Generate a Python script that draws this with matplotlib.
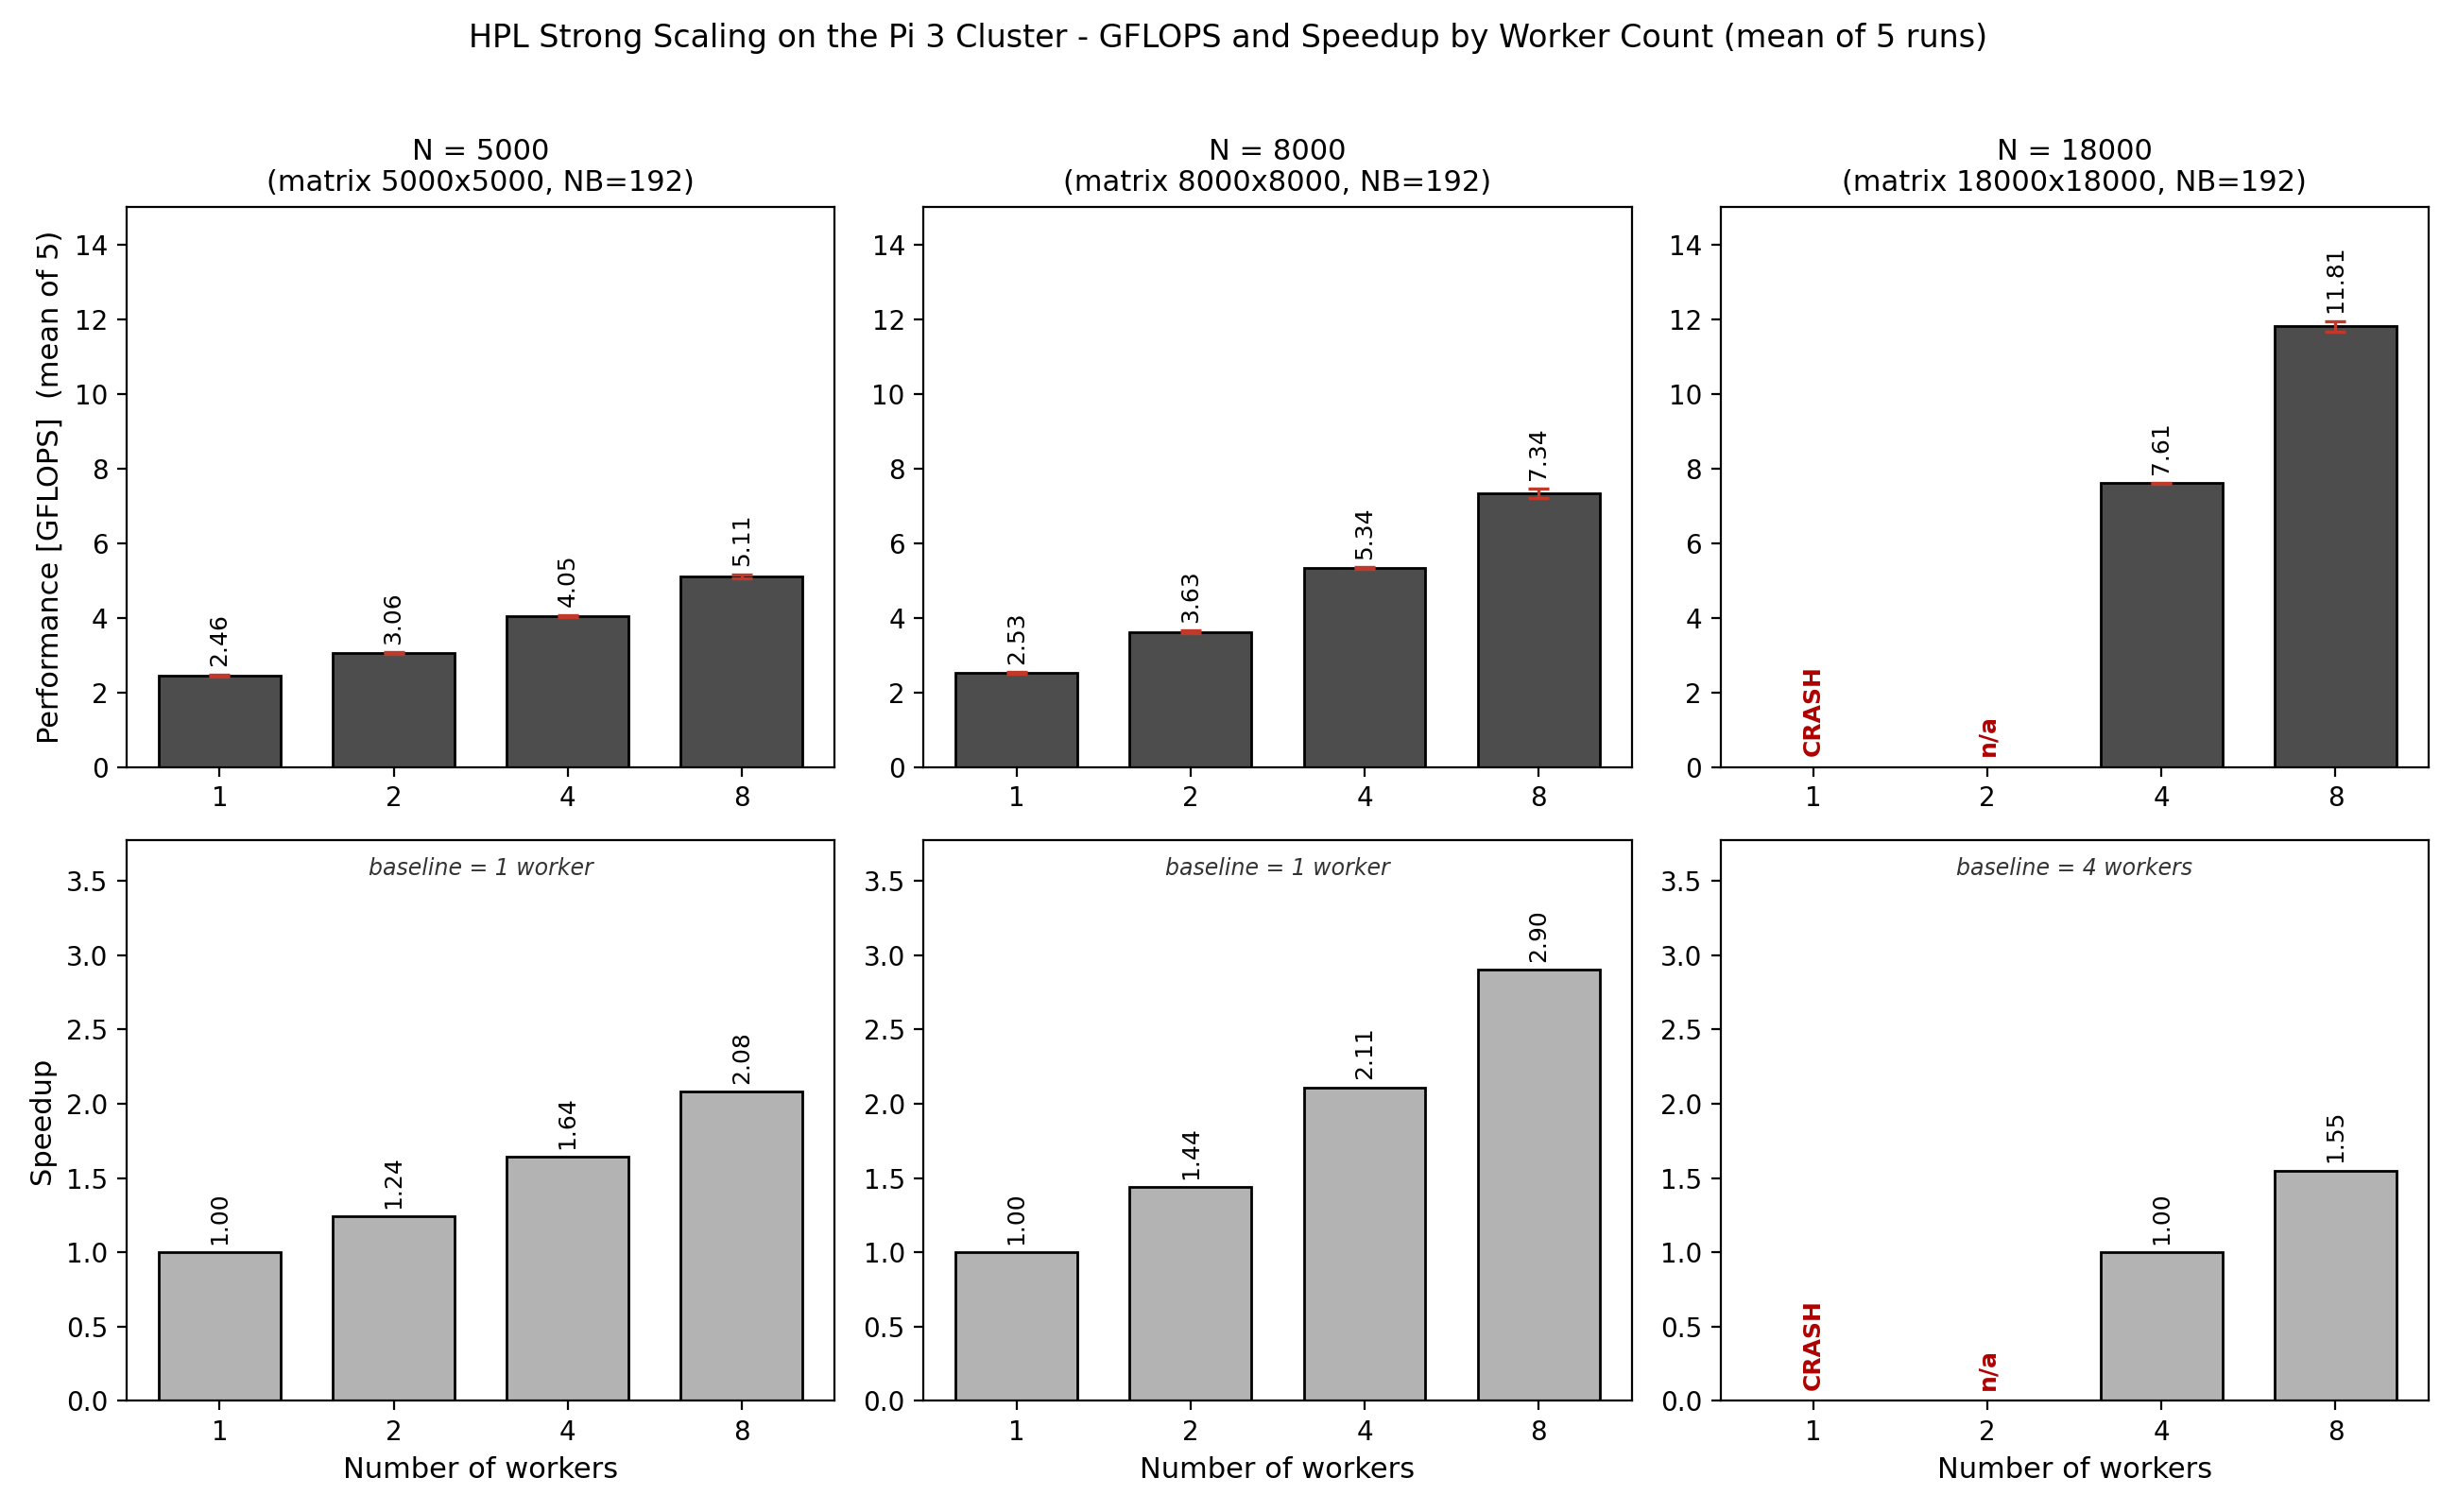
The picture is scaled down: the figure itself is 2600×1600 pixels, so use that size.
import numpy as np
import matplotlib
matplotlib.use("Agg")
import matplotlib.pyplot as plt

workers = ["1", "2", "4", "8"]
sizes = [5000, 8000, 18000]

# mean GFLOPS per problem size (None = no result)
gflops_5000 = [2.46, 3.06, 4.05, 5.11]
gflops_8000 = [2.53, 3.63, 5.34, 7.34]
gflops_18000 = [None, None, 7.61, 11.81]

# std dev over the 5 runs
std_5000 = [0.03, 0.03, 0.03, 0.06]
std_8000 = [0.03, 0.03, 0.02, 0.13]
std_18000 = [None, None, 0.01, 0.14]

speedup_5000 = [1.00, 1.24, 1.64, 2.08]
speedup_8000 = [1.00, 1.44, 2.11, 2.90]
speedup_18000 = [None, None, 1.00, 1.55]

missing_18000 = ["CRASH", "n/a", None, None]
baselines = ["baseline = 1 worker", "baseline = 1 worker", "baseline = 4 workers"]

gflops = [gflops_5000, gflops_8000, gflops_18000]
stds = [std_5000, std_8000, std_18000]
speedups = [speedup_5000, speedup_8000, speedup_18000]
missing = [[None] * 4, [None] * 4, missing_18000]

fig, axes = plt.subplots(2, 3, figsize=(13, 8), dpi=200)
x = np.arange(len(workers))
width = 0.7
gf_top = 15
sp_top = max(max(v for v in s if v is not None) for s in speedups) * 1.3

for col, n in enumerate(sizes):
    ax = axes[0, col]
    vals = gflops[col]
    errs = stds[col]
    heights = [0 if v is None else v for v in vals]
    ax.bar(x, heights, width, color="#4d4d4d", edgecolor="black", linewidth=1)
    for i in range(len(workers)):
        if vals[i] is None:
            ax.text(x[i], gf_top * 0.02, missing[col][i], rotation=90, ha="center",
                    va="bottom", color="#b00000", fontweight="bold", fontsize=9)
            continue
        ax.errorbar(x[i], vals[i], yerr=errs[i], fmt="none", ecolor="#c0392b",
                    capsize=4, elinewidth=1.2, capthick=1.2)
        ax.annotate(f"{vals[i]:.2f}", (x[i], vals[i] + errs[i]), xytext=(0, 3),
                    textcoords="offset points", ha="center", va="bottom",
                    rotation=90, fontsize=9)
    ax.set_xticks(x)
    ax.set_xticklabels(workers)
    ax.set_ylim(0, gf_top)
    ax.set_title(f"N = {n}\n(matrix {n}x{n}, NB=192)", fontsize=11)
    if col == 0:
        ax.set_ylabel("Performance [GFLOPS]  (mean of 5)", fontsize=11)

    ax = axes[1, col]
    vals = speedups[col]
    heights = [0 if v is None else v for v in vals]
    ax.bar(x, heights, width, color="#b3b3b3", edgecolor="black", linewidth=1)
    for i in range(len(workers)):
        if vals[i] is None:
            ax.text(x[i], sp_top * 0.02, missing[col][i], rotation=90, ha="center",
                    va="bottom", color="#b00000", fontweight="bold", fontsize=9)
            continue
        ax.annotate(f"{vals[i]:.2f}", (x[i], vals[i]), xytext=(0, 3),
                    textcoords="offset points", ha="center", va="bottom",
                    rotation=90, fontsize=9)
    ax.text(0.5, 0.95, baselines[col], transform=ax.transAxes, ha="center",
            va="center", style="italic", fontsize=8.5, color="#333333")
    ax.set_xticks(x)
    ax.set_xticklabels(workers)
    ax.set_ylim(0, sp_top)
    ax.set_xlabel("Number of workers", fontsize=11)
    if col == 0:
        ax.set_ylabel("Speedup", fontsize=11)

fig.suptitle("HPL Strong Scaling on the Pi 3 Cluster - GFLOPS and Speedup by Worker Count (mean of 5 runs)",
             fontsize=12, y=0.985)
plt.tight_layout(rect=[0, 0, 1, 0.967])
plt.savefig("out.png")
